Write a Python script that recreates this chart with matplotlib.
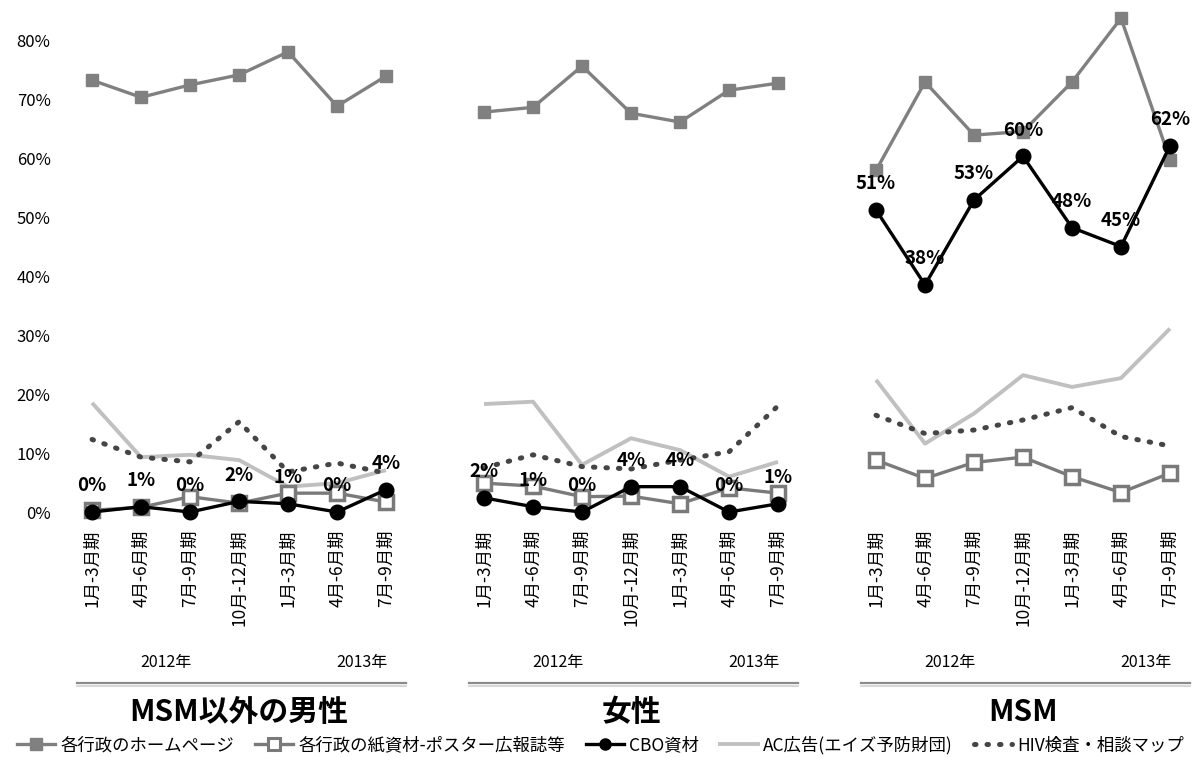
import numpy as np
import matplotlib
matplotlib.use("Agg")
import matplotlib.pyplot as plt
import matplotlib.transforms as mtransforms
from matplotlib.lines import Line2D

plt.rcParams['font.family'] = ['Noto Sans CJK JP', 'DejaVu Sans']

# ---- data ----
groups = ["MSM以外の男性", "女性", "MSM"]
periods = ["1月-3月期", "4月-6月期", "7月-9月期", "10月-12月期", "1月-3月期", "4月-6月期", "7月-9月期"]
years = ["2012年", "2013年"]
series_names = ["各行政のホームページ", "各行政の紙資材-ポスター広報誌等", "CBO資材",
                "AC広告(エイズ予防財団)", "HIV検査・相談マップ"]

homepage = [
    [73.2, 70.3, 72.4, 74.1, 78.0, 68.8, 73.9],
    [67.8, 68.6, 75.6, 67.6, 66.1, 71.5, 72.7],
    [57.9, 72.9, 63.9, 64.5, 72.9, 83.7, 59.7],
]
paper = [
    [0.3, 0.8, 2.6, 1.5, 3.2, 3.2, 1.7],
    [4.9, 4.4, 2.6, 2.7, 1.4, 4.1, 3.2],
    [8.8, 5.7, 8.4, 9.3, 6.0, 3.3, 6.6],
]
cbo = [
    [0.0, 0.9, 0.0, 1.8, 1.4, 0.0, 3.8],
    [2.4, 0.9, 0.0, 4.3, 4.3, 0.0, 1.4],
    [51.2, 38.5, 52.9, 60.3, 48.2, 45.0, 62.1],
]
ac_ad = [
    [18.5, 9.3, 9.7, 8.8, 4.3, 4.9, 7.1],
    [18.3, 18.7, 8.0, 12.5, 10.5, 6.0, 8.5],
    [22.4, 11.6, 16.7, 23.2, 21.2, 22.7, 31.1],
]
hiv_map = [
    [12.3, 9.3, 8.5, 15.3, 6.8, 8.3, 6.6],
    [7.5, 9.7, 7.7, 7.3, 8.8, 10.2, 18.0],
    [16.4, 13.3, 13.9, 15.6, 17.7, 12.8, 11.2],
]
yticks = [0, 10, 20, 30, 40, 50, 60, 70, 80]

# ---- figure ----
W, H = 1201, 757
fig = plt.figure(figsize=(W / 100, H / 100), dpi=100)
ax = fig.add_axes([70 / W, (H - 525) / H, (1195 - 70) / W, (525 - 10) / H])

n = len(periods)
step = n + 1
cols = {
    'home': '#808080', 'paper': '#7a7a7a', 'cbo': '#000000',
    'ac': '#c0c0c0', 'hiv': '#454545'
}

all_x = []
all_lbl = []
for g in range(len(groups)):
    xs = np.arange(n) + g * step
    all_x.extend(xs)
    all_lbl.extend(periods)
    ax.plot(xs, ac_ad[g], color=cols['ac'], lw=2.8, zorder=2, solid_capstyle='butt')
    ax.plot(xs, hiv_map[g], color=cols['hiv'], lw=3.6, ls=(0, (0.3, 2.2)),
            dash_capstyle='round', zorder=2)
    ax.plot(xs, homepage[g], color=cols['home'], lw=2.4, marker='s', ms=8.5,
            mfc=cols['home'], mec=cols['home'], zorder=3, clip_on=False)
    ax.plot(xs, paper[g], color=cols['paper'], lw=2.4, marker='s', ms=10.5,
            mfc='white', mec=cols['paper'], mew=2.5, zorder=3, clip_on=False)
    ax.plot(xs, cbo[g], color=cols['cbo'], lw=2.4, marker='o', ms=10.5,
            zorder=4, clip_on=False)
    for x, v in zip(xs, cbo[g]):
        ax.annotate(f"{v:.0f}%", (x, v), xytext=(0, 12), textcoords='offset points',
                    ha='center', va='bottom', fontsize=13.5, fontweight='bold', zorder=6)

ax.set_xticks(all_x)
ax.set_xticklabels(all_lbl, rotation=90, fontsize=12.5, va='top', ha='center')
ax.set_yticks(yticks)
ax.set_yticklabels([f"{t}%" for t in yticks], fontsize=12)
ax.tick_params(axis='both', length=0)
ax.tick_params(axis='y', pad=14)
ax.tick_params(axis='x', pad=3)
ax.set_xlim(-0.45, 22.51)
ax.set_ylim(-2.2, 85.1)
for s in ax.spines.values():
    s.set_visible(False)

# group annotations
trans = mtransforms.blended_transform_factory(ax.transData, fig.transFigure)
for g, name in enumerate(groups):
    x0 = g * step
    fig.text(x0 + 1.5, (H - 662) / H, years[0], transform=trans, ha='center', va='center', fontsize=11.5)
    fig.text(x0 + 5.5, (H - 662) / H, years[1], transform=trans, ha='center', va='center', fontsize=11.5)
    fig.add_artist(Line2D([x0 - 0.3, x0 + 6.4], [(H - 683) / H] * 2, transform=trans,
                          color='#8a8a8a', lw=1.6))
    fig.add_artist(Line2D([x0 - 0.3, x0 + 6.4], [(H - 685.5) / H] * 2, transform=trans,
                          color='#d0d0d0', lw=1.2))
    fig.text(x0 + 3.0, (H - 712) / H, name, transform=trans, ha='center', va='center',
             fontsize=21.5, fontweight='bold')

handles = [
    Line2D([], [], color=cols['home'], lw=2.4, marker='s', ms=8.5, mfc=cols['home'], mec=cols['home']),
    Line2D([], [], color=cols['paper'], lw=2.4, marker='s', ms=9, mfc='white', mec=cols['paper'], mew=2.2),
    Line2D([], [], color=cols['cbo'], lw=2.4, marker='o', ms=8),
    Line2D([], [], color=cols['ac'], lw=2.8),
    Line2D([], [], color=cols['hiv'], lw=3.6, ls=(0, (0.3, 2.2)), dash_capstyle='round'),
]
fig.legend(handles, series_names, loc='center', bbox_to_anchor=(0.5, (H - 745) / H), ncol=5,
           frameon=False, fontsize=12.5, handlelength=2.2, handletextpad=0.3, columnspacing=1.2)

fig.savefig("out.png", dpi=100)
